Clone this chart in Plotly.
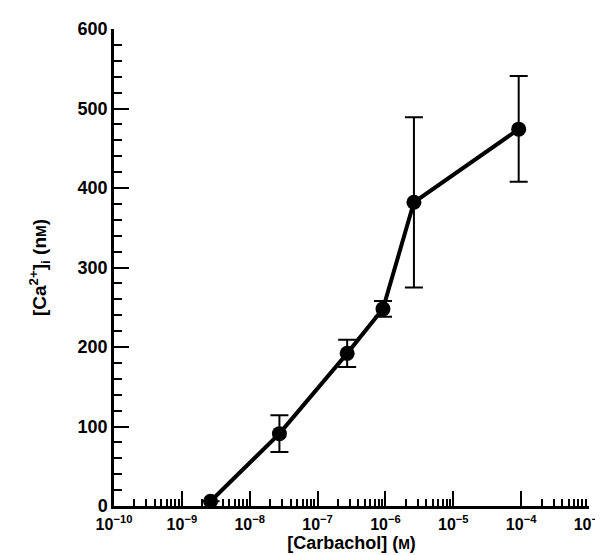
import plotly.graph_objects as go

# Data
carbachol_M = [2.65e-9, 2.74e-8, 2.73e-7, 9.2e-7, 2.63e-6, 9.2e-5]
ca_nM = [6, 91, 192, 248, 382, 474]
err_plus = [0, 23, 17, 10, 107, 67]
err_minus = [0, 23, 17, 10, 107, 66]

# Axis tick definitions
x_major_vals = [1e-10, 1e-9, 1e-8, 1e-7, 1e-6, 1e-5, 1e-4, 1e-3]
x_major_text = ["10<sup>−10</sup>", "10<sup>−9</sup>", "10<sup>−8</sup>", "10<sup>−7</sup>",
                "10<sup>−6</sup>", "10<sup>−5</sup>", "10<sup>−4</sup>", "10<sup>−3</sup>"]
minor_decades = [-10, -9, -8, -7, -6, -4]   # decade 1e-5..1e-4 has no minor ticks
minor_mults = [2, 3, 4, 5, 6, 7, 8, 9]
x_minor_vals = [m * 10.0 ** d for d in minor_decades for m in minor_mults]

FONT = "Liberation Sans"

fig = go.Figure()
fig.add_trace(go.Scatter(
    x=carbachol_M, y=ca_nM,
    mode="lines+markers",
    line=dict(color="black", width=4),
    marker=dict(color="black", size=15),
    error_y=dict(type="data", array=err_plus, arrayminus=err_minus,
                 color="black", thickness=2, width=9, symmetric=False),
    cliponaxis=False,
    showlegend=False,
))

fig.update_layout(
    template="none",
    width=603, height=555,
    margin=dict(l=106, r=22, t=21, b=57, pad=0),
    paper_bgcolor="white", plot_bgcolor="white",
    font=dict(family=FONT, color="black", size=18),
    xaxis=dict(
        type="log", range=[-10, -3], automargin=False,
        showline=True, linecolor="black", linewidth=2.5,
        showgrid=False, zeroline=False,
        ticks="inside", ticklen=15, tickwidth=2, tickcolor="black",
        tickmode="array", tickvals=x_major_vals, ticktext=x_major_text,
        tickfont=dict(family=FONT, size=16, weight="bold"),
        ticklabelstandoff=2,
        minor=dict(tickmode="array", tickvals=x_minor_vals, ticks="inside",
                   ticklen=7, tickwidth=2, tickcolor="black", showgrid=False),
        title=dict(text="[Carbachol] (<span style='font-size:14px'>M</span>)",
                   font=dict(family=FONT, size=18, weight="bold"), standoff=0),
    ),
    yaxis=dict(
        range=[0, 600], automargin=False,
        showline=True, linecolor="black", linewidth=2.5,
        showgrid=False, zeroline=False,
        ticks="inside", ticklen=15, tickwidth=2, tickcolor="black",
        tick0=0, dtick=100,
        tickfont=dict(family=FONT, size=18, weight="bold"),
        minor=dict(dtick=20, ticks="inside", ticklen=8, tickwidth=2,
                   tickcolor="black", showgrid=False),
        title=dict(text="[Ca<sup>2+</sup>]<sub>i</sub> (n<span style='font-size:14px'>M</span>)",
                   font=dict(family=FONT, size=19, weight="bold"), standoff=26),
    ),
)

fig.write_html("out.html")
